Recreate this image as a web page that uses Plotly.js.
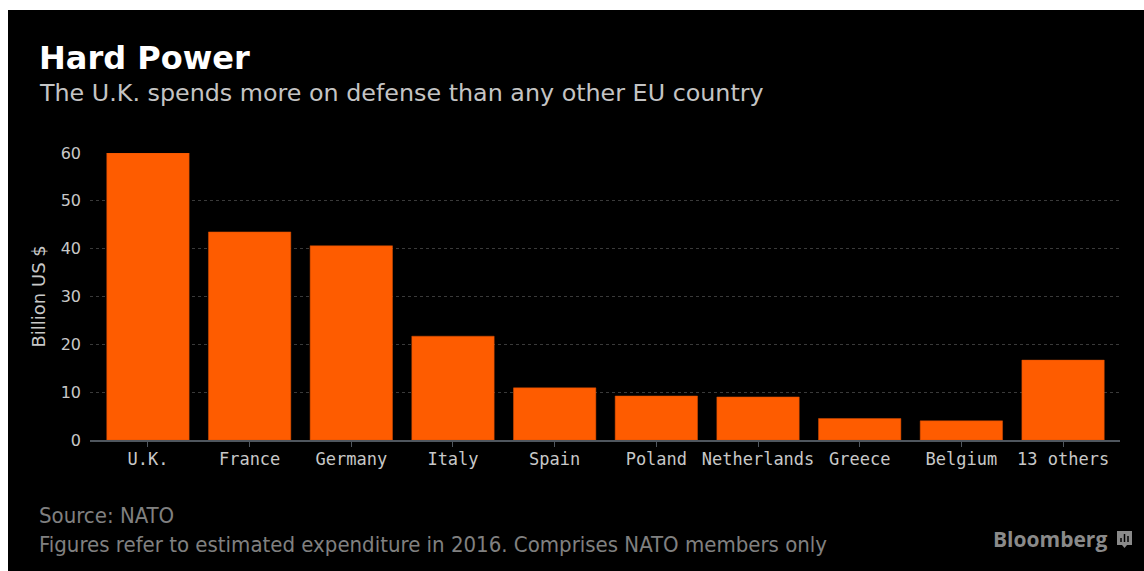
<!DOCTYPE html>
<html>
<head>
<meta charset="utf-8">
<script src="https://cdn.plot.ly/plotly-3.0.1.min.js"></script>
<style>
  html, body { margin: 0; padding: 0; background: #ffffff; }
  #chart { position: absolute; left: 8px; top: 10px; width: 1136px; height: 561px; }
</style>
</head>
<body>
<div id="chart"></div>
<script>
const categories = ["U.K.", "France", "Germany", "Italy", "Spain", "Poland", "Netherlands", "Greece", "Belgium", "13 others"];
const spending = [60.0, 43.5, 40.6, 21.7, 10.9, 9.2, 9.0, 4.5, 4.0, 16.7];
const yTicks = [0, 10, 20, 30, 40, 50, 60];

const PL = 82, PW = 1030, PT = 143, PH = 287;
const px = x => (x - PL) / PW;
const py = y => (PT + PH - y) / PH;

const trace = {
  type: 'bar',
  x: categories,
  y: spending,
  marker: { color: '#fe5c00', line: { color: '#d94e00', width: 0.5 } },
  hoverinfo: 'x+y'
};

const layout = {
  width: 1136, height: 561,
  paper_bgcolor: '#000000',
  plot_bgcolor: '#000000',
  margin: { l: PL, r: 1136 - PL - PW, t: PT, b: 561 - PT - PH, pad: 0 },
  bargap: 0.19,
  showlegend: false,
  xaxis: {
    type: 'category',
    range: [-0.57, 9.56],
    showgrid: false,
    zeroline: false,
    showline: true,
    linecolor: '#4f565e',
    linewidth: 2,
    ticks: 'outside',
    ticklen: 5,
    tickwidth: 1,
    tickcolor: '#4f565e',
    tickfont: { family: 'DejaVu Sans Mono, monospace', size: 17, color: '#c8c8c8' },
    ticklabelstandoff: -2,
    fixedrange: true
  },
  yaxis: {
    range: [0, 60],
    tickvals: yTicks,
    ticktext: yTicks.map(String),
    showgrid: true,
    gridcolor: '#3a3a3a',
    griddash: 'dot',
    gridwidth: 1,
    zeroline: false,
    showline: false,
    ticks: '',
    tickfont: { family: 'DejaVu Sans, sans-serif', size: 16, color: '#c8c8c8' },
    ticklabelstandoff: 8,
    fixedrange: true
  },
  annotations: [
    { text: '<b>Hard Power</b>', xref: 'paper', yref: 'paper', x: px(29), y: py(48.5),
      xanchor: 'left', yanchor: 'middle', showarrow: false,
      font: { family: 'DejaVu Sans, sans-serif', size: 32, color: '#ffffff' } },
    { text: 'The U.K. spends more on defense than any other EU country', xref: 'paper', yref: 'paper',
      x: px(29), y: py(83.3), xanchor: 'left', yanchor: 'middle', showarrow: false,
      font: { family: 'DejaVu Sans, sans-serif', size: 23.8, color: '#c4c4c4' } },
    { text: 'Billion US $', xref: 'paper', yref: 'paper', x: px(30), y: 0.5, textangle: -90,
      xanchor: 'center', yanchor: 'middle', showarrow: false,
      font: { family: 'DejaVu Sans, sans-serif', size: 18, color: '#c8c8c8' } },
    { text: 'Source: NATO<br>Figures refer to estimated expenditure in 2016. Comprises NATO members only',
      xref: 'paper', yref: 'paper', x: px(29), y: py(519.5), align: 'left',
      xanchor: 'left', yanchor: 'middle', showarrow: false,
      font: { family: 'DejaVu Sans Condensed, Liberation Sans Narrow, sans-serif', size: 22, color: '#808080' } },
    { text: '<b>Bloomberg</b>', xref: 'paper', yref: 'paper', x: px(1101), y: py(529),
      xanchor: 'right', yanchor: 'middle', showarrow: false,
      font: { family: 'Open Sans, DejaVu Sans, sans-serif', size: 21, color: '#8a8a8a' } }
  ],
  shapes: [
    { type: 'rect', xref: 'paper', yref: 'paper', x0: px(1109), x1: px(1124), y0: py(521), y1: py(535),
      fillcolor: '#8a8a8a', line: { width: 0 } },
    { type: 'path', xref: 'paper', yref: 'paper',
      path: `M ${px(1114)} ${py(535)} L ${px(1119)} ${py(535)} L ${px(1116.5)} ${py(538)} Z`,
      fillcolor: '#8a8a8a', line: { width: 0 } },
    { type: 'line', xref: 'paper', yref: 'paper', x0: px(1113), x1: px(1113), y0: py(528), y1: py(532), line: { color: '#000', width: 1.5 } },
    { type: 'line', xref: 'paper', yref: 'paper', x0: px(1116.5), x1: px(1116.5), y0: py(524), y1: py(532), line: { color: '#000', width: 1.5 } },
    { type: 'line', xref: 'paper', yref: 'paper', x0: px(1120), x1: px(1120), y0: py(526), y1: py(532), line: { color: '#000', width: 1.5 } }
  ]
};

Plotly.newPlot('chart', [trace], layout, { displayModeBar: false, staticPlot: true });
</script>
</body>
</html>
